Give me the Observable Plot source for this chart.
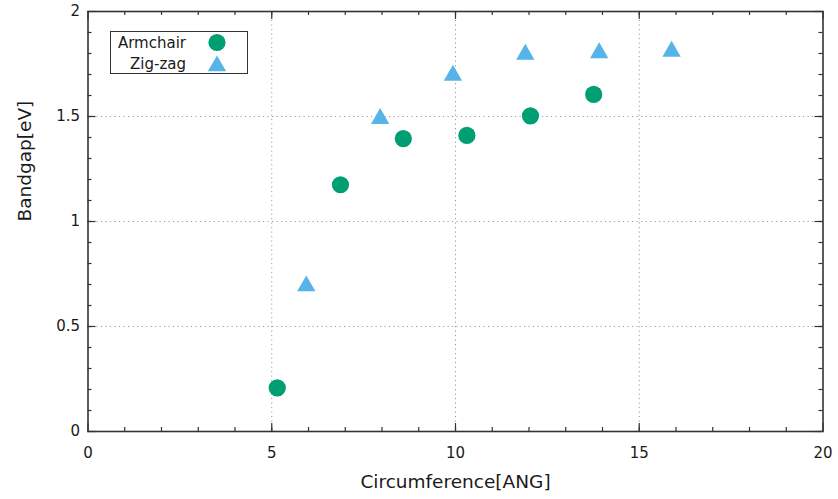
<!DOCTYPE html>
<html>
<head>
<meta charset="utf-8">
<script src="https://cdn.jsdelivr.net/npm/d3@7"></script>
<script src="https://cdn.jsdelivr.net/npm/@observablehq/plot@0.6"></script>
<style>
  html, body { margin: 0; padding: 0; background: #fff; }
  #wrap { position: relative; width: 838px; height: 499px; font-family: "DejaVu Sans", sans-serif; }
  #legend { position: absolute; left: 110px; top: 31px; width: 136px; height: 41px;
    border: 1.5px solid #333; background: #fff; box-sizing: content-box; }
  #legend .row { position: absolute; left: 0; width: 136px; height: 20px; }
  #legend .lab { position: absolute; right: 61px; top: 0; font-size: 15px; line-height: 20px; color: #1a1a1a; white-space: nowrap; }
  #legend svg { position: absolute; left: 94px; top: 0; }
</style>
</head>
<body>
<div id="wrap"></div>
<script>
// ---- data ----
const armchairX = [5.15, 6.87, 8.58, 10.31, 12.04, 13.76];
const armchairY = [0.208, 1.175, 1.395, 1.41, 1.503, 1.605];
const zigzagX = [5.94, 7.95, 9.93, 11.90, 13.91, 15.88];
const zigzagY = [0.693, 1.49, 1.696, 1.796, 1.803, 1.81];
const seriesNames = ["Armchair", "Zig-zag"];
const seriesColors = ["#009E73", "#56B4E9"];
const xTicks = [0, 5, 10, 15, 20];
const yTicks = [0, 0.5, 1, 1.5, 2];
const xMinor = d3.range(1, 20);
const yMinor = d3.range(1, 20).map(i => i / 10);
const xGrid = [5, 10, 15];
const yGrid = [0.5, 1, 1.5];
const xLabel = "Circumference[ANG]";
const yLabel = "Bandgap[eV]";

const armchair = armchairX.map((x, i) => ({x, y: armchairY[i]}));
const zigzag = zigzagX.map((x, i) => ({x, y: zigzagY[i]}));

const W = 838, H = 499;
const mL = 87.5, mR = 15.5, mT = 11, mB = 68;
const pw = W - mL - mR, ph = H - mT - mB;
const tickColor = "#333";

const chart = Plot.plot({
  width: W, height: H,
  marginLeft: mL, marginRight: mR, marginTop: mT, marginBottom: mB,
  style: { fontFamily: "DejaVu Sans, sans-serif", background: "#fff", color: "#1a1a1a" },
  x: { domain: [0, 20], axis: null },
  y: { domain: [0, 2], axis: null },
  marks: [
    Plot.gridX(xGrid, { stroke: "#999", strokeOpacity: 1, strokeDasharray: "1.2,3.3", strokeWidth: 1 }),
    Plot.gridY(yGrid, { stroke: "#999", strokeOpacity: 1, strokeDasharray: "1.2,3.3", strokeWidth: 1 }),
    // bottom & top ticks
    Plot.tickX(xMinor, { x: d => d, insetTop: ph - 4, stroke: tickColor, strokeWidth: 1.2 }),
    Plot.tickX(xMinor, { x: d => d, insetBottom: ph - 4, stroke: tickColor, strokeWidth: 1.2 }),
    Plot.tickX(xTicks, { x: d => d, insetTop: ph - 8, stroke: tickColor, strokeWidth: 1.2 }),
    Plot.tickX(xTicks, { x: d => d, insetBottom: ph - 8, stroke: tickColor, strokeWidth: 1.2 }),
    // left & right ticks
    Plot.tickY(yMinor, { y: d => d, insetRight: pw - 4, stroke: tickColor, strokeWidth: 1.2 }),
    Plot.tickY(yMinor, { y: d => d, insetLeft: pw - 4, stroke: tickColor, strokeWidth: 1.2 }),
    Plot.tickY(yTicks, { y: d => d, insetRight: pw - 8, stroke: tickColor, strokeWidth: 1.2 }),
    Plot.tickY(yTicks, { y: d => d, insetLeft: pw - 8, stroke: tickColor, strokeWidth: 1.2 }),
    Plot.frame({ stroke: tickColor, strokeWidth: 1.6 }),
    Plot.axisX({ ticks: xTicks, tickSize: 0, tickPadding: 16, fontSize: 15, label: null, tickFormat: d => String(d) }),
    Plot.axisY({ ticks: yTicks, tickSize: 0, tickPadding: 8, fontSize: 15, label: null, tickFormat: d => String(d) }),
    Plot.text([xLabel], { text: d => d, frameAnchor: "bottom", dy: 51, fontSize: 18.5, lineAnchor: "middle", fill: "#1a1a1a" }),
    Plot.text([yLabel], { text: d => d, frameAnchor: "left", dx: -62.5, rotate: -90, fontSize: 18.5, lineAnchor: "middle", fill: "#1a1a1a" }),
    Plot.dot(armchair, { x: "x", y: "y", r: 8.6, fill: seriesColors[0], symbol: "circle" }),
    Plot.dot(zigzag, { x: "x", y: "y", r: 6.8, fill: seriesColors[1], symbol: "triangle" })
  ]
});

const wrap = document.getElementById("wrap");
wrap.appendChild(chart);

// legend overlay
const legend = document.createElement("div");
legend.id = "legend";
seriesNames.forEach((name, i) => {
  const row = document.createElement("div");
  row.className = "row";
  row.style.top = (i === 0 ? 1 : 22) + "px";
  const lab = document.createElement("span");
  lab.className = "lab";
  lab.textContent = name;
  row.appendChild(lab);
  const svg = d3.create("svg").attr("width", 24).attr("height", 20);
  const sym = i === 0 ? d3.symbolCircle : d3.symbolTriangle;
  const size = i === 0 ? Math.PI * 8.6 * 8.6 : Math.PI * 6.8 * 6.8;
  svg.append("path").attr("d", d3.symbol(sym, size)()).attr("transform", i === 0 ? "translate(12,9.5)" : "translate(12,12)").attr("fill", seriesColors[i]);
  row.appendChild(svg.node());
  legend.appendChild(row);
});
wrap.appendChild(legend);
</script>
</body>
</html>
